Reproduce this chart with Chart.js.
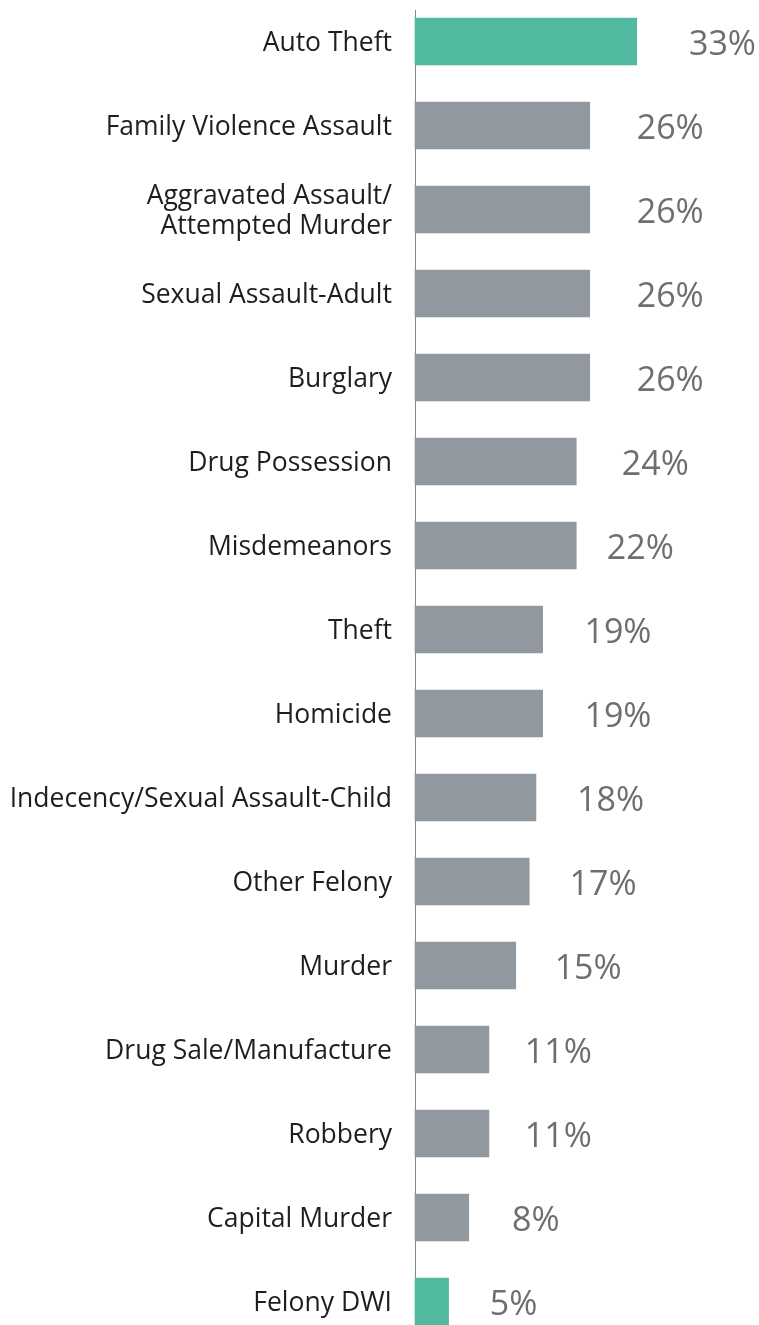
<!DOCTYPE html>
<html>
<head>
<meta charset="utf-8">
<script src="https://cdn.jsdelivr.net/npm/chart.js@4.4.1/dist/chart.umd.min.js"></script>
<style>
  html, body { margin: 0; padding: 0; background: #ffffff; }
  #wrap { width: 759px; height: 1325px; }
</style>
</head>
<body>
<div id="wrap"><canvas id="c" width="759" height="1325"></canvas></div>
<script>
const categories = [
  "Auto Theft",
  "Family Violence Assault",
  ["Aggravated Assault/", "Attempted Murder"],
  "Sexual Assault-Adult",
  "Burglary",
  "Drug Possession",
  "Misdemeanors",
  "Theft",
  "Homicide",
  "Indecency/Sexual Assault-Child",
  "Other Felony",
  "Murder",
  "Drug Sale/Manufacture",
  "Robbery",
  "Capital Murder",
  "Felony DWI"
];
// bar lengths as drawn (percent)
const barValues = [33, 26, 26, 26, 26, 24, 24, 19, 19, 18, 17, 15, 11, 11, 8, 5];
// printed percentages
const labelValues = [33, 26, 26, 26, 26, 24, 22, 19, 19, 18, 17, 15, 11, 11, 8, 5];
const highlighted = [true, false, false, false, false, false, false, false, false, false, false, false, false, false, false, true];

const GREEN = "#52b9a1";
const GRAY = "#9198a0";

const indices = categories.map((_, i) => i);

const valueLabels = {
  id: "valueLabels",
  afterDatasetsDraw(chart) {
    const ctx = chart.ctx;
    const xs = chart.scales.xl;
    const ys = chart.scales.y;
    ctx.save();
    ctx.font = "34px 'Open Sans', sans-serif";
    ctx.fillStyle = "#6d6e71";
    ctx.textAlign = "center";
    ctx.textBaseline = "middle";
    labelValues.forEach((v, i) => {
      ctx.fillText(v + "%", xs.getPixelForValue(v), ys.getPixelForValue(i) + 4);
    });
    ctx.restore();
  }
};

new Chart(document.getElementById("c"), {
  type: "bar",
  data: {
    labels: categories,
    datasets: [{
      data: barValues.map((v, i) => ({ x: v, y: i })),
      backgroundColor: highlighted.map(h => h ? GREEN : GRAY),
      barThickness: 47,
      borderWidth: 0,
      clip: false
    }]
  },
  options: {
    indexAxis: "y",
    responsive: false,
    animation: false,
    events: [],
    layout: { padding: { top: 10, bottom: 0, left: 0, right: 0 } },
    plugins: {
      legend: { display: false },
      tooltip: { enabled: false }
    },
    scales: {
      x: {
        type: "linear",
        display: false,
        min: 0,
        max: 51.2
      },
      xl: {
        type: "linear",
        axis: "x",
        display: false,
        min: -8.2,
        max: 37.9
      },
      y: {
        type: "linear",
        reverse: true,
        offset: false,
        min: -0.375,
        max: 15.28,
        afterBuildTicks(scale) {
          scale.ticks = indices.map(v => ({ value: v }));
        },
        afterFit(scale) {
          scale.width = 415;
          scale.paddingTop = 0;
          scale.paddingBottom = 0;
        },
        grid: { display: false, drawTicks: false, offset: false },
        border: { display: true, color: "#7d8891", width: 1 },
        ticks: {
          padding: 23,
          labelOffset: 2,
          color: "#1e1e1e",
          autoSkip: false,
          font: { family: "'Open Sans', sans-serif", size: 26.5, lineHeight: 1.14 },
          callback: (v) => categories[v]
        }
      }
    }
  },
  plugins: [valueLabels]
});
</script>
</body>
</html>
